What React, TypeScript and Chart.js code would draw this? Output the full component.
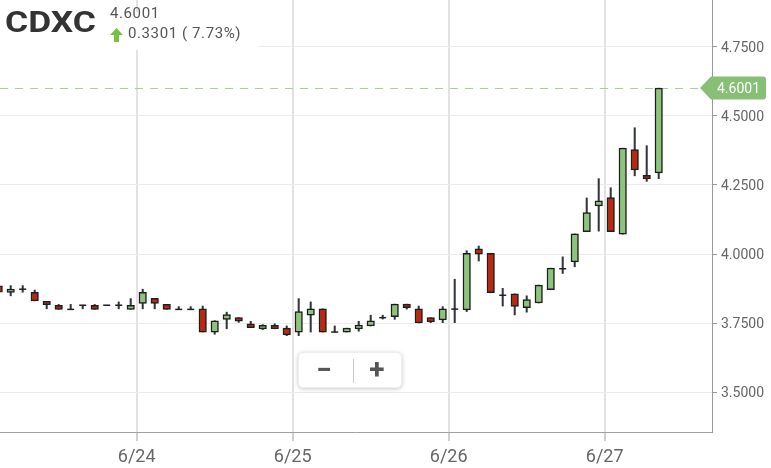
import React, { useEffect, useRef } from 'react';
import { Chart, registerables } from 'chart.js';

Chart.register(...registerables);

const symbol = 'CDXC';
const lastPriceText = '4.6001';
const changeText = '0.3301 ( 7.73%)';

// 30-minute candle slots (13 per trading day)
const candleSlots = [
  1, 2, 3, 4, 5, 6, 7, 8, 9, 10, 11, 12, 13, 14, 15, 16, 17, 18, 19, 20,
  21, 22, 23, 24, 25, 26, 27, 28, 29, 30, 31, 32, 33, 34, 35, 36, 37, 38, 39, 40,
  41, 42, 43, 44, 45, 46, 47, 48, 49, 50, 51, 52, 53, 54, 55, 56,
];
const opens = [
  3.885, 3.861, 3.873, 3.862, 3.829, 3.815, 3.8, 3.815, 3.815, 3.815, 3.815, 3.8, 3.822, 3.84, 3.818, 3.8, 3.8, 3.802, 3.718, 3.764,
  3.77, 3.748, 3.729, 3.742, 3.732, 3.718, 3.779, 3.802, 3.718, 3.718, 3.729, 3.74, 3.77, 3.774, 3.819, 3.802, 3.77, 3.762, 3.801, 3.798,
  4.019, 4.003, 3.851, 3.856, 3.806, 3.823, 3.871, 3.947, 3.972, 4.081, 4.174, 4.204, 4.072, 4.378, 4.285, 4.294,
];
const highs = [
  3.887, 3.886, 3.886, 3.87, 3.829, 3.818, 3.818, 3.815, 3.818, 3.815, 3.827, 3.839, 3.873, 3.84, 3.818, 3.81, 3.81, 3.812, 3.759, 3.79,
  3.77, 3.757, 3.745, 3.748, 3.74, 3.839, 3.827, 3.802, 3.74, 3.732, 3.757, 3.779, 3.779, 3.819, 3.819, 3.812, 3.77, 3.81, 3.909, 4.012,
  4.029, 4.003, 3.876, 3.856, 3.849, 3.888, 3.949, 3.99, 4.073, 4.203, 4.273, 4.24, 4.383, 4.457, 4.392, 4.6001,
];
const lows = [
  3.86, 3.849, 3.862, 3.831, 3.802, 3.8, 3.8, 3.802, 3.8, 3.815, 3.802, 3.8, 3.802, 3.802, 3.8, 3.8, 3.8, 3.718, 3.71, 3.73,
  3.753, 3.734, 3.727, 3.73, 3.705, 3.705, 3.718, 3.718, 3.718, 3.718, 3.721, 3.74, 3.765, 3.764, 3.801, 3.751, 3.752, 3.752, 3.752, 3.792,
  3.975, 3.86, 3.812, 3.78, 3.79, 3.823, 3.871, 3.93, 3.954, 4.081, 4.083, 4.081, 4.072, 4.283, 4.263, 4.273,
];
const closes = [
  3.862, 3.873, 3.873, 3.831, 3.817, 3.8, 3.8, 3.815, 3.8, 3.815, 3.815, 3.815, 3.862, 3.822, 3.8, 3.8, 3.8, 3.718, 3.759, 3.781,
  3.757, 3.734, 3.742, 3.73, 3.708, 3.792, 3.802, 3.718, 3.718, 3.732, 3.743, 3.759, 3.77, 3.819, 3.806, 3.751, 3.755, 3.802, 3.801, 4.003,
  4.0, 3.86, 3.851, 3.811, 3.835, 3.888, 3.949, 3.947, 4.073, 4.15, 4.193, 4.081, 4.383, 4.304, 4.272, 4.6001,
];

const dayTickPositions = [12.5, 25.5, 38.5, 51.5];
const dayTickLabels = ['6/24', '6/25', '6/26', '6/27'];
const priceTicks = [3.5, 3.75, 4.0, 4.25, 4.5, 4.75];
const priceTickLabels = ['3.5000', '3.7500', '4.0000', '4.2500', '4.5000', '4.7500'];

const X_MIN = 1.108;
const X_MAX = 60.44;
const Y_MIN = 3.3565;
const Y_MAX = 4.919;

const GREEN = '#8cc47b';
const RED = '#b8290f';
const lastPrice = closes[closes.length - 1];

const noPadding = (s: any) => {
  s.paddingTop = 0;
  s.paddingBottom = 0;
  s.paddingLeft = 0;
  s.paddingRight = 0;
};

const priceTagPlugin = {
  id: 'priceTag',
  beforeDatasetsDraw(chart: any) {
    const { ctx, chartArea, scales } = chart;
    const y = Math.round(scales.y.getPixelForValue(lastPrice)) + 0.5;
    ctx.save();
    ctx.strokeStyle = '#a6d196';
    ctx.lineWidth = 1;
    ctx.setLineDash([8, 7]);
    ctx.beginPath();
    ctx.moveTo(chartArea.left, y);
    ctx.lineTo(chartArea.right - 12, y);
    ctx.stroke();
    ctx.restore();
  },
  afterDraw(chart: any) {
    const { ctx, chartArea, scales } = chart;
    const y = Math.round(scales.y.getPixelForValue(lastPrice));
    const tip = chartArea.right - 12;
    const bx = chartArea.right - 1;
    const right = 766;
    const h = 11.5;
    const r = 3;
    ctx.save();
    ctx.fillStyle = '#88bf76';
    ctx.beginPath();
    ctx.moveTo(tip, y);
    ctx.lineTo(bx, y - h);
    ctx.lineTo(right - r, y - h);
    ctx.quadraticCurveTo(right, y - h, right, y - h + r);
    ctx.lineTo(right, y + h - r);
    ctx.quadraticCurveTo(right, y + h, right - r, y + h);
    ctx.lineTo(bx, y + h);
    ctx.closePath();
    ctx.fill();
    ctx.fillStyle = '#ffffff';
    ctx.font = '14px Roboto';
    ctx.textAlign = 'left';
    ctx.textBaseline = 'middle';
    ctx.fillText(lastPriceText, chartArea.right + 5, y + 1);
    ctx.restore();
  },
};

export default function App() {
  const canvasRef = useRef<HTMLCanvasElement | null>(null);

  useEffect(() => {
    if (!canvasRef.current) return;
    Chart.defaults.font.family = 'Roboto';
    const bodyIdx = candleSlots.map((_, i) => i).filter((i) => opens[i] !== closes[i]);
    const dojiIdx = candleSlots.map((_, i) => i).filter((i) => opens[i] === closes[i]);

    const chart = new Chart(canvasRef.current, {
      type: 'bar',
      data: {
        datasets: [
          {
            type: 'bar',
            label: 'wick',
            data: candleSlots.map((x, i) => ({ x, y: [lows[i], highs[i]] })) as any,
            backgroundColor: '#333840',
            borderWidth: 0,
            barThickness: 1.4,
            grouped: false,
            order: 3,
          } as any,
          {
            type: 'bar',
            label: 'body',
            data: bodyIdx.map((i) => ({ x: candleSlots[i], y: [opens[i], closes[i]] })) as any,
            backgroundColor: bodyIdx.map((i) => (closes[i] > opens[i] ? GREEN : RED)),
            borderColor: '#1e1e1e',
            borderWidth: 1.5,
            borderSkipped: false,
            barThickness: 7.5,
            grouped: false,
            order: 2,
          } as any,
          {
            type: 'scatter',
            label: 'doji',
            data: dojiIdx.map((i) => ({ x: candleSlots[i], y: closes[i] })),
            pointStyle: 'line',
            pointRadius: 3.5,
            borderColor: '#222',
            borderWidth: 1.5,
            order: 1,
          } as any,
        ],
      },
      options: {
        animation: false,
        responsive: false,
        events: [],
        layout: { padding: 0, autoPadding: false },
        plugins: { legend: { display: false }, tooltip: { enabled: false } },
        scales: {
          x: {
            type: 'linear',
            min: X_MIN,
            max: X_MAX,
            offset: false,
            grid: { offset: false, color: '#e2e2e2', lineWidth: 2, tickLength: 9, tickColor: '#d0d0d0' },
            border: { color: '#a0a0a0', width: 1 },
            afterBuildTicks: (s: any) => {
              s.ticks = dayTickPositions.map((v) => ({ value: v }));
            },
            afterFit: (s: any) => {
              s.height = 36;
              noPadding(s);
            },
            ticks: {
              autoSkip: false,
              maxRotation: 0,
              color: '#666',
              padding: 6,
              font: { family: 'Roboto', size: 18 },
              callback: (_v: any, i: number) => dayTickLabels[i],
            },
          },
          y: {
            type: 'linear',
            position: 'right',
            min: Y_MIN,
            max: Y_MAX,
            grid: { color: '#ececec', lineWidth: 1, tickLength: 5, tickColor: '#999' },
            border: { color: '#999', width: 1 },
            afterBuildTicks: (s: any) => {
              s.ticks = priceTicks.map((v) => ({ value: v }));
            },
            afterFit: (s: any) => {
              s.width = 59;
              noPadding(s);
            },
            ticks: {
              color: '#666',
              padding: 4,
              labelOffset: 1.5,
              font: { family: 'Roboto', size: 14 },
              callback: (_v: any, i: number) => priceTickLabels[i],
            },
          },
        },
      } as any,
      plugins: [priceTagPlugin],
    });
    return () => chart.destroy();
  }, []);

  return (
    <div style={{ position: 'fixed', left: 0, top: 0, width: 771, height: 468, background: '#fff', overflow: 'hidden' }}>
      <canvas ref={canvasRef} width={771} height={468} style={{ position: 'absolute', left: 0, top: 0, width: 771, height: 468 }} />
      <div style={{ position: 'absolute', left: 0, top: 12, width: 258, height: 38, background: '#fff' }} />
      <div
        style={{
          position: 'absolute', left: 5, top: 8, fontFamily: 'Roboto', fontWeight: 700, fontSize: 29, lineHeight: '29px',
          color: '#333', transform: 'scaleX(1.22)', transformOrigin: 'left top', whiteSpace: 'nowrap',
        }}
      >
        {symbol}
      </div>
      <div style={{ position: 'absolute', left: 110, top: 6, fontFamily: 'Roboto', fontSize: 15, lineHeight: '15px', letterSpacing: 0.6, color: '#555', whiteSpace: 'nowrap' }}>
        {lastPriceText}
      </div>
      <svg width={13} height={14} style={{ position: 'absolute', left: 110, top: 28 }}>
        <polygon points="6.5,0 13,7 9,7 9,14 4,14 4,7 0,7" fill="#78c043" />
      </svg>
      <div style={{ position: 'absolute', left: 128, top: 26, fontFamily: 'Roboto', fontSize: 15, lineHeight: '15px', letterSpacing: 0.6, color: '#555', whiteSpace: 'nowrap' }}>
        {changeText}
      </div>
      <div
        style={{
          position: 'absolute', left: 298, top: 352, width: 104, height: 36, background: '#fff', borderRadius: 5,
          boxShadow: '0 1px 4px rgba(0,0,0,0.22)', border: '1px solid #eee', boxSizing: 'border-box',
        }}
      >
        <span style={{ position: 'absolute', left: 12, top: 2, width: 26, textAlign: 'center', fontFamily: 'Roboto', fontWeight: 700, fontSize: 28, lineHeight: '30px', color: '#555' }}>−</span>
        <div style={{ position: 'absolute', left: 54, top: 6, width: 1, height: 24, background: '#ccc' }} />
        <span style={{ position: 'absolute', left: 65, top: 2, width: 26, textAlign: 'center', fontFamily: 'Roboto', fontWeight: 700, fontSize: 28, lineHeight: '30px', color: '#555' }}>+</span>
      </div>
    </div>
  );
}
